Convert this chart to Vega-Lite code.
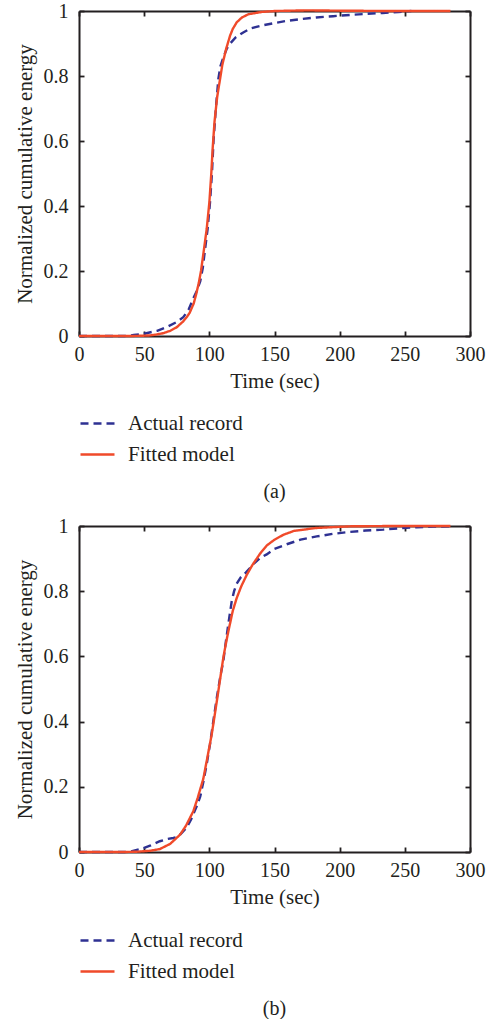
{
  "$schema": "https://vega.github.io/schema/vega-lite/v6.json",
  "padding": {"left": 14, "top": 1, "right": 5, "bottom": 0},
  "spacing": 14,
  "config": {
    "font": "'Liberation Serif', 'DejaVu Serif', serif",
    "view": {"stroke": null},
    "axis": {
      "grid": false,
      "domainColor": "#231f20",
      "domainWidth": 2,
      "tickColor": "#231f20",
      "tickWidth": 1.8,
      "tickSize": -5,
      "labelFlush": false,
      "labelFont": "'Liberation Serif', 'DejaVu Serif', serif",
      "labelFontSize": 20,
      "labelColor": "#231f20",
      "titleFont": "'Liberation Serif', 'DejaVu Serif', serif",
      "titleFontSize": 21,
      "titleFontWeight": "normal",
      "titleColor": "#231f20"
    },
    "legend": {"labelFont": "'Liberation Serif', 'DejaVu Serif', serif"},
    "title": {"font": "'Liberation Serif', 'DejaVu Serif', serif", "fontSize": 20, "fontWeight": "normal", "color": "#231f20"}
  },
  "datasets": {
    "a": [
      {"t": 0, "v": 0, "series": "Actual record"},
      {"t": 35, "v": 0, "series": "Actual record"},
      {"t": 42, "v": 0.003, "series": "Actual record"},
      {"t": 50, "v": 0.007, "series": "Actual record"},
      {"t": 60, "v": 0.016, "series": "Actual record"},
      {"t": 68, "v": 0.029, "series": "Actual record"},
      {"t": 75, "v": 0.043, "series": "Actual record"},
      {"t": 80, "v": 0.058, "series": "Actual record"},
      {"t": 84, "v": 0.08, "series": "Actual record"},
      {"t": 87.5, "v": 0.114, "series": "Actual record"},
      {"t": 90, "v": 0.135, "series": "Actual record"},
      {"t": 93, "v": 0.168, "series": "Actual record"},
      {"t": 95, "v": 0.21, "series": "Actual record"},
      {"t": 96.5, "v": 0.26, "series": "Actual record"},
      {"t": 98.7, "v": 0.33, "series": "Actual record"},
      {"t": 100.5, "v": 0.41, "series": "Actual record"},
      {"t": 102, "v": 0.5, "series": "Actual record"},
      {"t": 103.2, "v": 0.6, "series": "Actual record"},
      {"t": 105, "v": 0.7, "series": "Actual record"},
      {"t": 106.9, "v": 0.79, "series": "Actual record"},
      {"t": 108.5, "v": 0.83, "series": "Actual record"},
      {"t": 111, "v": 0.86, "series": "Actual record"},
      {"t": 113.5, "v": 0.885, "series": "Actual record"},
      {"t": 116, "v": 0.9, "series": "Actual record"},
      {"t": 120, "v": 0.918, "series": "Actual record"},
      {"t": 126, "v": 0.934, "series": "Actual record"},
      {"t": 132, "v": 0.947, "series": "Actual record"},
      {"t": 140, "v": 0.955, "series": "Actual record"},
      {"t": 150, "v": 0.963, "series": "Actual record"},
      {"t": 160, "v": 0.97, "series": "Actual record"},
      {"t": 170, "v": 0.975, "series": "Actual record"},
      {"t": 182, "v": 0.98, "series": "Actual record"},
      {"t": 195, "v": 0.984, "series": "Actual record"},
      {"t": 208, "v": 0.988, "series": "Actual record"},
      {"t": 220, "v": 0.991, "series": "Actual record"},
      {"t": 233, "v": 0.994, "series": "Actual record"},
      {"t": 245, "v": 0.997, "series": "Actual record"},
      {"t": 255, "v": 1.0, "series": "Actual record"},
      {"t": 0, "v": 0, "series": "Fitted model"},
      {"t": 40, "v": 0, "series": "Fitted model"},
      {"t": 50, "v": 0.001, "series": "Fitted model"},
      {"t": 55, "v": 0.002, "series": "Fitted model"},
      {"t": 60, "v": 0.005, "series": "Fitted model"},
      {"t": 65, "v": 0.009, "series": "Fitted model"},
      {"t": 70, "v": 0.016, "series": "Fitted model"},
      {"t": 75, "v": 0.027, "series": "Fitted model"},
      {"t": 80, "v": 0.045, "series": "Fitted model"},
      {"t": 83, "v": 0.06, "series": "Fitted model"},
      {"t": 85, "v": 0.072, "series": "Fitted model"},
      {"t": 88, "v": 0.1, "series": "Fitted model"},
      {"t": 90, "v": 0.13, "series": "Fitted model"},
      {"t": 92, "v": 0.165, "series": "Fitted model"},
      {"t": 93.6, "v": 0.2, "series": "Fitted model"},
      {"t": 96, "v": 0.27, "series": "Fitted model"},
      {"t": 98, "v": 0.33, "series": "Fitted model"},
      {"t": 100, "v": 0.41, "series": "Fitted model"},
      {"t": 101.5, "v": 0.5, "series": "Fitted model"},
      {"t": 102.6, "v": 0.58, "series": "Fitted model"},
      {"t": 104, "v": 0.66, "series": "Fitted model"},
      {"t": 106, "v": 0.735, "series": "Fitted model"},
      {"t": 108, "v": 0.785, "series": "Fitted model"},
      {"t": 110, "v": 0.835, "series": "Fitted model"},
      {"t": 113, "v": 0.885, "series": "Fitted model"},
      {"t": 116, "v": 0.925, "series": "Fitted model"},
      {"t": 118, "v": 0.945, "series": "Fitted model"},
      {"t": 121, "v": 0.965, "series": "Fitted model"},
      {"t": 125, "v": 0.98, "series": "Fitted model"},
      {"t": 130, "v": 0.99, "series": "Fitted model"},
      {"t": 140, "v": 0.997, "series": "Fitted model"},
      {"t": 150, "v": 1.0, "series": "Fitted model"},
      {"t": 175, "v": 1.002, "series": "Fitted model"},
      {"t": 200, "v": 1.001, "series": "Fitted model"},
      {"t": 240, "v": 1.0, "series": "Fitted model"},
      {"t": 285, "v": 1.0, "series": "Fitted model"}
    ],
    "b": [
      {"t": 0, "v": 0, "series": "Actual record"},
      {"t": 35, "v": 0, "series": "Actual record"},
      {"t": 40, "v": 0.002, "series": "Actual record"},
      {"t": 49.4, "v": 0.012, "series": "Actual record"},
      {"t": 55, "v": 0.02, "series": "Actual record"},
      {"t": 62, "v": 0.033, "series": "Actual record"},
      {"t": 68, "v": 0.04, "series": "Actual record"},
      {"t": 72.4, "v": 0.043, "series": "Actual record"},
      {"t": 75, "v": 0.046, "series": "Actual record"},
      {"t": 78, "v": 0.055, "series": "Actual record"},
      {"t": 82.6, "v": 0.075, "series": "Actual record"},
      {"t": 86, "v": 0.1, "series": "Actual record"},
      {"t": 90.3, "v": 0.14, "series": "Actual record"},
      {"t": 93, "v": 0.17, "series": "Actual record"},
      {"t": 95.4, "v": 0.215, "series": "Actual record"},
      {"t": 98, "v": 0.27, "series": "Actual record"},
      {"t": 100.5, "v": 0.33, "series": "Actual record"},
      {"t": 103, "v": 0.4, "series": "Actual record"},
      {"t": 106, "v": 0.48, "series": "Actual record"},
      {"t": 108.5, "v": 0.54, "series": "Actual record"},
      {"t": 110.7, "v": 0.585, "series": "Actual record"},
      {"t": 112.5, "v": 0.64, "series": "Actual record"},
      {"t": 114.6, "v": 0.7, "series": "Actual record"},
      {"t": 117.2, "v": 0.77, "series": "Actual record"},
      {"t": 119, "v": 0.8, "series": "Actual record"},
      {"t": 121, "v": 0.823, "series": "Actual record"},
      {"t": 124, "v": 0.842, "series": "Actual record"},
      {"t": 128, "v": 0.857, "series": "Actual record"},
      {"t": 133.8, "v": 0.883, "series": "Actual record"},
      {"t": 138.9, "v": 0.902, "series": "Actual record"},
      {"t": 144, "v": 0.913, "series": "Actual record"},
      {"t": 150, "v": 0.93, "series": "Actual record"},
      {"t": 159.4, "v": 0.944, "series": "Actual record"},
      {"t": 170, "v": 0.958, "series": "Actual record"},
      {"t": 182.4, "v": 0.968, "series": "Actual record"},
      {"t": 195, "v": 0.976, "series": "Actual record"},
      {"t": 208, "v": 0.982, "series": "Actual record"},
      {"t": 220, "v": 0.986, "series": "Actual record"},
      {"t": 233.5, "v": 0.989, "series": "Actual record"},
      {"t": 246, "v": 0.993, "series": "Actual record"},
      {"t": 259, "v": 0.996, "series": "Actual record"},
      {"t": 272, "v": 0.998, "series": "Actual record"},
      {"t": 285, "v": 0.999, "series": "Actual record"},
      {"t": 0, "v": 0, "series": "Fitted model"},
      {"t": 35, "v": 0, "series": "Fitted model"},
      {"t": 45, "v": 0.001, "series": "Fitted model"},
      {"t": 55, "v": 0.004, "series": "Fitted model"},
      {"t": 62, "v": 0.009, "series": "Fitted model"},
      {"t": 70, "v": 0.025, "series": "Fitted model"},
      {"t": 77.5, "v": 0.053, "series": "Fitted model"},
      {"t": 82, "v": 0.08, "series": "Fitted model"},
      {"t": 87.7, "v": 0.125, "series": "Fitted model"},
      {"t": 91, "v": 0.165, "series": "Fitted model"},
      {"t": 95.4, "v": 0.225, "series": "Fitted model"},
      {"t": 98.5, "v": 0.29, "series": "Fitted model"},
      {"t": 101.8, "v": 0.36, "series": "Fitted model"},
      {"t": 104.5, "v": 0.43, "series": "Fitted model"},
      {"t": 106.9, "v": 0.493, "series": "Fitted model"},
      {"t": 109, "v": 0.55, "series": "Fitted model"},
      {"t": 110.7, "v": 0.595, "series": "Fitted model"},
      {"t": 112.5, "v": 0.635, "series": "Fitted model"},
      {"t": 114.6, "v": 0.677, "series": "Fitted model"},
      {"t": 118, "v": 0.74, "series": "Fitted model"},
      {"t": 121, "v": 0.779, "series": "Fitted model"},
      {"t": 124.5, "v": 0.815, "series": "Fitted model"},
      {"t": 128.7, "v": 0.85, "series": "Fitted model"},
      {"t": 133, "v": 0.88, "series": "Fitted model"},
      {"t": 138.9, "v": 0.915, "series": "Fitted model"},
      {"t": 144, "v": 0.94, "series": "Fitted model"},
      {"t": 150, "v": 0.958, "series": "Fitted model"},
      {"t": 156.8, "v": 0.973, "series": "Fitted model"},
      {"t": 165, "v": 0.985, "series": "Fitted model"},
      {"t": 182, "v": 0.994, "series": "Fitted model"},
      {"t": 208, "v": 0.999, "series": "Fitted model"},
      {"t": 240, "v": 1.0, "series": "Fitted model"},
      {"t": 285, "v": 1.0, "series": "Fitted model"}
    ]
  },
  "vconcat": [
    {
      "width": 391,
      "height": 325,
      "data": {"name": "a"},
      "title": {"text": "(a)", "orient": "bottom", "anchor": "middle", "offset": 17},
      "layer": [
        {
          "mark": {"type": "line", "strokeWidth": 2.4},
          "encoding": {
            "x": {"field": "t", "type": "quantitative", "scale": {"domain": [0, 300], "nice": false},
                  "axis": {"values": [0, 50, 100, 150, 200, 250, 300], "title": "Time (sec)", "labelPadding": 13, "titlePadding": 6}},
            "y": {"field": "v", "type": "quantitative", "scale": {"domain": [0, 1], "nice": false},
                  "axis": {"values": [0, 0.2, 0.4, 0.6, 0.8, 1], "format": "~g", "title": "Normalized cumulative energy", "labelPadding": 16, "titlePadding": 8}},
            "color": {"field": "series", "type": "nominal",
                      "scale": {"domain": ["Actual record", "Fitted model"], "range": ["#2e3192", "#f04a2a"]},
                      "legend": {"title": null, "orient": "none", "legendX": 0, "legendY": 394, "symbolType": "stroke", "symbolSize": 1156, "symbolStrokeWidth": 2.3, "labelFontSize": 21, "labelColor": "#231f20", "labelOffset": 12, "rowPadding": 2}},
            "strokeDash": {"field": "series", "type": "nominal",
                      "scale": {"domain": ["Actual record", "Fitted model"], "range": [[8, 5], [1, 0]]},
                      "legend": {"title": null, "orient": "none", "legendX": 0, "legendY": 394, "symbolType": "stroke", "symbolSize": 1156, "symbolStrokeWidth": 2.3, "labelFontSize": 21, "labelColor": "#231f20", "labelOffset": 12, "rowPadding": 2}}
          }
        },
        {
          "mark": {"type": "line", "opacity": 0},
          "encoding": {
            "x": {"field": "t", "type": "quantitative", "axis": {"orient": "top", "values": [0, 50, 100, 150, 200, 250, 300], "labels": false, "title": null}},
            "y": {"field": "v", "type": "quantitative", "axis": {"orient": "right", "values": [0, 0.2, 0.4, 0.6, 0.8, 1], "labels": false, "title": null}}
          }
        }
      ],
      "resolve": {"axis": {"x": "independent", "y": "independent"}}
    },
    {
      "width": 391,
      "height": 326,
      "data": {"name": "b"},
      "title": {"text": "(b)", "orient": "bottom", "anchor": "middle", "offset": 17},
      "layer": [
        {
          "mark": {"type": "line", "strokeWidth": 2.4},
          "encoding": {
            "x": {"field": "t", "type": "quantitative", "scale": {"domain": [0, 300], "nice": false},
                  "axis": {"values": [0, 50, 100, 150, 200, 250, 300], "title": "Time (sec)", "labelPadding": 13, "titlePadding": 6}},
            "y": {"field": "v", "type": "quantitative", "scale": {"domain": [0, 1], "nice": false},
                  "axis": {"values": [0, 0.2, 0.4, 0.6, 0.8, 1], "format": "~g", "title": "Normalized cumulative energy", "labelPadding": 16, "titlePadding": 8}},
            "color": {"field": "series", "type": "nominal",
                      "scale": {"domain": ["Actual record", "Fitted model"], "range": ["#2e3192", "#f04a2a"]},
                      "legend": {"title": null, "orient": "none", "legendX": 0, "legendY": 396, "symbolType": "stroke", "symbolSize": 1156, "symbolStrokeWidth": 2.3, "labelFontSize": 21, "labelColor": "#231f20", "labelOffset": 12, "rowPadding": 2}},
            "strokeDash": {"field": "series", "type": "nominal",
                      "scale": {"domain": ["Actual record", "Fitted model"], "range": [[8, 5], [1, 0]]},
                      "legend": {"title": null, "orient": "none", "legendX": 0, "legendY": 396, "symbolType": "stroke", "symbolSize": 1156, "symbolStrokeWidth": 2.3, "labelFontSize": 21, "labelColor": "#231f20", "labelOffset": 12, "rowPadding": 2}}
          }
        },
        {
          "mark": {"type": "line", "opacity": 0},
          "encoding": {
            "x": {"field": "t", "type": "quantitative", "axis": {"orient": "top", "values": [0, 50, 100, 150, 200, 250, 300], "labels": false, "title": null}},
            "y": {"field": "v", "type": "quantitative", "axis": {"orient": "right", "values": [0, 0.2, 0.4, 0.6, 0.8, 1], "labels": false, "title": null}}
          }
        }
      ],
      "resolve": {"axis": {"x": "independent", "y": "independent"}}
    }
  ],
  "resolve": {"scale": {"color": "independent", "strokeDash": "independent"}}
}
